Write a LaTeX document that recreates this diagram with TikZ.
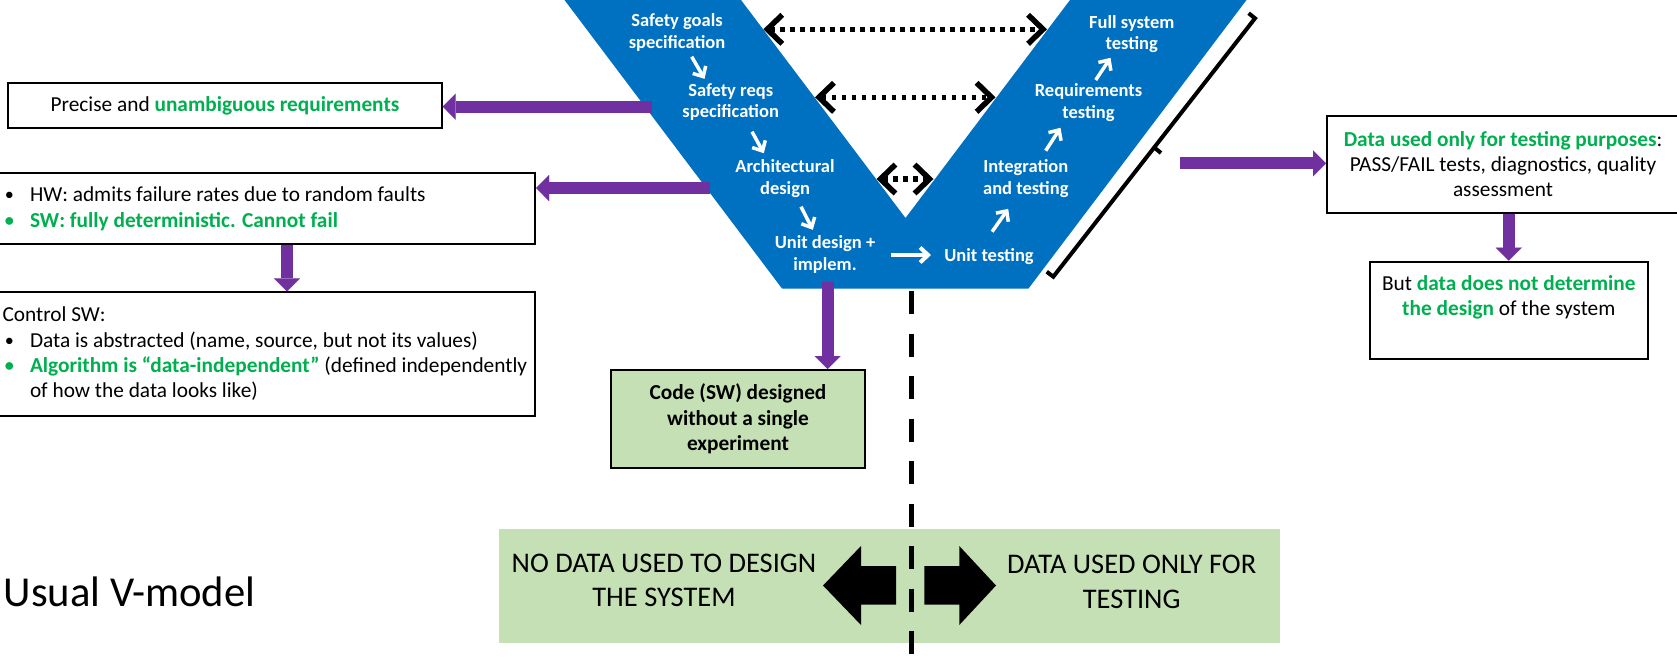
\documentclass[tikz,border=0pt]{standalone}
\usepackage{fontspec}
\setmainfont{Carlito}
\usetikzlibrary{arrows.meta,calc}
\definecolor{vblue}{HTML}{0070C0}
\definecolor{vpurple}{HTML}{7030A0}
\definecolor{vgreen}{HTML}{00B050}
\definecolor{lgreen}{HTML}{C5E0B4}
\newcommand{\bul}{\makebox[25.2pt][l]{\raisebox{1pt}{\scalebox{0.85}{•}}}}
\begin{document}
\begin{tikzpicture}[x=1pt,y=-1pt,
  vtext/.style={text=white,font=\fontsize{18.5}{21.6}\selectfont\bfseries,align=center,inner sep=0pt},
  body/.style={font=\fontsize{21.33}{25.3}\selectfont,inner sep=0pt},
  bigtext/.style={font=\fontsize{28.44}{34.4}\selectfont,inner sep=0pt,align=center},
  box/.style={draw=black,line width=2pt,inner sep=0pt},
  warrow/.style={white,line width=3.5pt,-{Straight Barb[length=8pt,width=15pt]}},
  darrow/.style={black,line width=5.5pt,dash pattern=on 4.5pt off 5.5pt,
     {Straight Barb[length=15pt,width=29pt,line width=5.5pt]}-{Straight Barb[length=15pt,width=29pt,line width=5.5pt]}},
  parrow/.style={vpurple,line width=12pt,-{Triangle[length=13pt,width=26pt,line width=0.01pt]}},
]
\fill[white] (0,0) rectangle (1677,657);
\useasboundingbox (0,0) rectangle (1677,657);

% V shape
\fill[vblue] (563,-2) -- (739.5,-2) -- (905.5,218) -- (1071.5,-2) -- (1248,-2) -- (1028.5,288.5) -- (782,288.5) -- cycle;

% V texts
\node[vtext] (n1) at (677,32.5) {Safety goals\\specification};
\node[vtext] (n2) at (730.7,102) {Safety reqs\\specification};
\node[vtext] (n3) at (785,178.3) {Architectural\\design};
\node[vtext] (n4) at (825,254.2) {Unit design +\\implem.};
\node[vtext] (n5) at (989,256.7) {Unit testing};
\node[vtext] (n6) at (1025.8,178.6) {Integration\\and testing};
\node[vtext] (n7) at (1088.5,102.5) {Requirements\\testing};
\node[vtext] (n8) at (1131.8,34.2) {Full system\\testing};

% white arrows
\coordinate (a1s) at (691.7,56.7);  \coordinate (a1e) at (704.5,78.8);
\coordinate (a2s) at (752,131.7);   \coordinate (a2e) at (763.8,153.2);
\coordinate (a3s) at (801,206.7);   \coordinate (a3e) at (812.8,229.8);
\coordinate (a4s) at (891.2,255);   \coordinate (a4e) at (931,255);
\coordinate (a5s) at (992.1,231.7); \coordinate (a5e) at (1008.2,208.8);
\coordinate (a6s) at (1045.7,150.7);\coordinate (a6e) at (1060.5,127.8);
\coordinate (a7s) at (1095.7,80);   \coordinate (a7e) at (1110.5,57.8);
\draw[warrow] (a1s) -- (a1e);
\draw[warrow] (a2s) -- (a2e);
\draw[warrow] (a3s) -- (a3e);
\draw[warrow,line width=4pt] (a4s) -- (a4e);
\draw[warrow] (a5s) -- (a5e);
\draw[warrow] (a6s) -- (a6e);
\draw[warrow] (a7s) -- (a7e);

% dotted double arrows between the arms
\coordinate (d1l) at (763.3,29.3); \coordinate (d1r) at (1047,29.3);
\coordinate (d2l) at (815,97.3);   \coordinate (d2r) at (995.5,97.3);
\coordinate (d3l) at (876.5,179);  \coordinate (d3r) at (933.5,179);
\draw[darrow] (d1l) -- (d1r);
\draw[darrow] (d2l) -- (d2r);
\draw[darrow] (d3l) -- (d3r);

% bracket
\draw[line width=4pt,line join=miter] (1248.6,13.2) -- (1255,18.3) -- (1053.3,276.7) -- (1046.7,271.7);
\draw[line width=4pt] (1154.2,147.5) -- (1161,153);

% left boxes
\node[box,body,minimum width=433.4pt,minimum height=45.6pt] (b1) at (225,105.5)
  {Precise and \textcolor{vgreen}{\bfseries unambiguous requirements}};
\node[box,minimum width=538pt,minimum height=71.3pt] (b2) at (266,208.35) {};
\node[body,anchor=west,align=left] (t2) at (4.6,208.8)
  {\bul HW: admits failure rates due to random faults\\
   \textcolor{vgreen}{\bfseries\bul SW: fully deterministic. Cannot fail}};
\node[box,minimum width=538pt,minimum height=123.4pt] (b3) at (266,354) {};
\node[body,anchor=west,align=left] (t3) at (2.3,353.9)
  {Control SW:\\
   \hspace*{2.3pt}\bul Data is abstracted (name, source, but not its values)\\
   \hspace*{2.3pt}\textcolor{vgreen}{\bfseries\bul Algorithm is “data-independent”} (defined independently\\
   \hspace*{27.5pt}of how the data looks like)};

% green box
\node[box,fill=lgreen,body,align=center,minimum width=254pt,minimum height=97.7pt,
      font=\fontsize{21.33}{25.5}\selectfont\bfseries] (g) at (738,418.85)
  {Code (SW) designed\\without a single\\experiment};

% right boxes
\node[box,body,align=center,minimum width=352pt,minimum height=97pt,
      font=\fontsize{21.33}{25}\selectfont] (b4) at (1503,164.2)
  {\textcolor{vgreen}{\bfseries Data used only for testing purposes}:\\PASS/FAIL tests, diagnostics, quality\\assessment};
\node[box,minimum width=278.5pt,minimum height=97.6pt] (b5) at (1508.75,310.5) {};
\node[body,align=center,font=\fontsize{21.33}{25}\selectfont] (t5) at (1508.75,297.5)
  {But \textcolor{vgreen}{\bfseries data does not determine}\\\textcolor{vgreen}{\bfseries the design} of the system};

% purple arrows
\coordinate (p1s) at (652,106.7);
\coordinate (p2s) at (709.5,188);
\coordinate (p3x) at (287,0);
\coordinate (p4s) at (827.5,281.7);
\coordinate (p5s) at (1180,163.3);
\draw[parrow] (p1s) -- (p1s -| b1.east);
\draw[parrow] (p2s) -- (p2s -| b2.east);
\draw[parrow] (b2.south -| p3x) -- (b3.north -| p3x);
\draw[parrow] (p4s) -- (p4s |- g.north);
\draw[parrow] (p5s) -- (p5s -| b4.west);
\draw[parrow] (b4.south -| b5.north) -- (b5.north);

% bottom band
\node[fill=lgreen,inner sep=0pt,minimum width=781pt,minimum height=114.3pt] (band) at (889.5,586.15) {};
\draw[line width=5pt,dash pattern=on 23pt off 19.5pt] (911,291) -- (911,660);
\fill[black] (896,566) -- (861,566) -- (861,546) -- (823,585.5) -- (861,625) -- (861,604.5) -- (896,604.5) -- cycle;
\fill[black] (924.3,566) -- (959.3,566) -- (959.3,546) -- (996,585.5) -- (959.3,625) -- (959.3,604.5) -- (924.3,604.5) -- cycle;
\node[bigtext] (lt) at (664,580.5) {NO DATA USED TO DESIGN\\THE SYSTEM};
\node[bigtext] (rt) at (1131.7,581.7) {DATA USED ONLY FOR\\TESTING};

% title
\node[anchor=west,inner sep=0pt,font=\fontsize{42.67}{50}\selectfont] (title) at (3.5,592) {Usual V-model};
\end{tikzpicture}
\end{document}
